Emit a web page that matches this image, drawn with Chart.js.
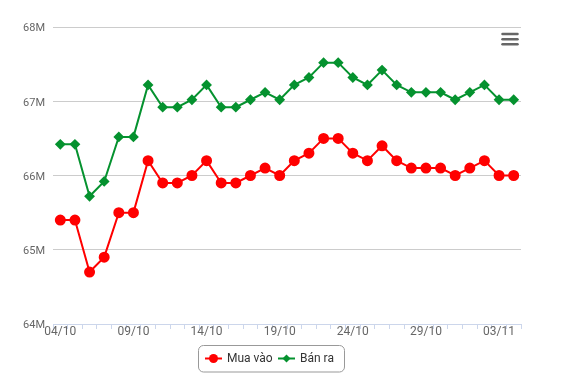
<!DOCTYPE html>
<html><head><meta charset="utf-8">
<script src="https://cdn.jsdelivr.net/npm/chart.js@4/dist/chart.umd.min.js"></script>
<style>html,body{margin:0;padding:0;background:#fff}#wrap{width:564px;height:385px;position:relative}</style>
</head><body><div id="wrap"><canvas id="c" width="564" height="385"></canvas></div>
<script>
const categories = ["04/10","05/10","06/10","07/10","08/10","09/10","10/10","11/10","12/10","13/10","14/10","15/10","16/10","17/10","18/10","19/10","20/10","21/10","22/10","23/10","24/10","25/10","26/10","27/10","28/10","29/10","30/10","31/10","01/11","02/11","03/11","04/11"];
const muaVao = [65400000,65400000,64700000,64900000,65500000,65500000,66200000,65900000,65900000,66000000,66200000,65900000,65900000,66000000,66100000,66000000,66200000,66300000,66500000,66500000,66300000,66200000,66400000,66200000,66100000,66100000,66100000,66000000,66100000,66200000,66000000,66000000];
const banRa = [66420000,66420000,65720000,65920000,66520000,66520000,67220000,66920000,66920000,67020000,67220000,66920000,66920000,67020000,67120000,67020000,67220000,67320000,67520000,67520000,67320000,67220000,67420000,67220000,67120000,67120000,67120000,67020000,67120000,67220000,67020000,67020000];
const seriesNames = ["Mua vào","Bán ra"];
const yTicks = [64000000,65000000,66000000,67000000,68000000];

const RED = '#ff0000', GREEN = '#05922f';
const FONT = 'Roboto, "Open Sans", sans-serif';

const extras = {
  id: 'extras',
  afterDraw(chart) {
    const ctx = chart.ctx;
    ctx.save();
    // hamburger menu
    ctx.strokeStyle = '#666'; ctx.lineWidth = 2.5; ctx.lineCap = 'round';
    [34, 39.3, 44.3].forEach(y => { ctx.beginPath(); ctx.moveTo(502.5, y); ctx.lineTo(517.5, y); ctx.stroke(); });
    // legend box
    const bx = 198.5, by = 345.5, bw = 146, bh = 26.5, r = 5;
    ctx.beginPath();
    ctx.roundRect(bx, by, bw, bh, r);
    ctx.strokeStyle = '#999'; ctx.lineWidth = 1; ctx.lineCap = 'butt'; ctx.stroke();
    const cy = 358.5;
    ctx.font = '12px ' + FONT; ctx.textBaseline = 'middle'; ctx.fillStyle = '#333';
    // item 1
    ctx.strokeStyle = RED; ctx.lineWidth = 2;
    ctx.beginPath(); ctx.moveTo(205, cy); ctx.lineTo(222, cy); ctx.stroke();
    ctx.fillStyle = RED; ctx.beginPath(); ctx.arc(213.5, cy, 4.5, 0, Math.PI*2); ctx.fill();
    ctx.fillStyle = '#333'; ctx.fillText(seriesNames[0], 227, cy);
    // item 2
    ctx.strokeStyle = GREEN;
    ctx.beginPath(); ctx.moveTo(278, cy); ctx.lineTo(295, cy); ctx.stroke();
    ctx.fillStyle = GREEN; ctx.beginPath();
    ctx.moveTo(286.5, cy-4); ctx.lineTo(290.5, cy); ctx.lineTo(286.5, cy+4); ctx.lineTo(282.5, cy); ctx.closePath(); ctx.fill();
    ctx.fillStyle = '#333'; ctx.fillText(seriesNames[1], 300, cy);
    ctx.restore();
  }
};

new Chart(document.getElementById('c'), {
  type: 'line',
  data: {
    labels: categories,
    datasets: [
      { label: seriesNames[0], data: muaVao, borderColor: RED, backgroundColor: RED, borderWidth: 2,
        pointStyle: 'circle', pointRadius: 4.5, pointHoverRadius: 4.5, tension: 0 },
      { label: seriesNames[1], data: banRa, borderColor: GREEN, backgroundColor: GREEN, borderWidth: 2,
        pointStyle: 'rectRot', pointRadius: 4, pointHoverRadius: 4, tension: 0 }
    ]
  },
  options: {
    responsive: false, animation: false, devicePixelRatio: 1,
    layout: { padding: { top: 27, left: 0, right: 43, bottom: 41 } },
    plugins: { legend: { display: false }, tooltip: { enabled: false } },
    scales: {
      x: {
        type: 'category', offset: true,
        grid: { display: true, offset: true, drawOnChartArea: false, drawTicks: true, tickLength: 5, color: '#ccd6eb' },
        border: { display: true, color: '#ccd6eb', width: 1 },
        ticks: { autoSkip: false, maxRotation: 0, minRotation: 0, padding: -4, color: '#666', font: { family: FONT, size: 12 },
          callback: function(v, i) { return i % 5 === 0 ? categories[i] : ''; } },
        afterFit(s) { s.height = 20; }
      },
      y: {
        min: 64000000, max: 68000000,
        afterBuildTicks(s) { s.ticks = yTicks.map(v => ({ value: v })); },
        grid: { color: '#cccccc', drawTicks: false, lineWidth: 1 },
        border: { display: false },
        ticks: { padding: 8, labelOffset: 1.5, color: '#666', font: { family: FONT, size: 11 },
          callback: v => (v / 1000000) + 'M' },
        afterFit(s) { s.width = 53; }
      }
    }
  },
  plugins: [extras]
});
</script></body></html>
